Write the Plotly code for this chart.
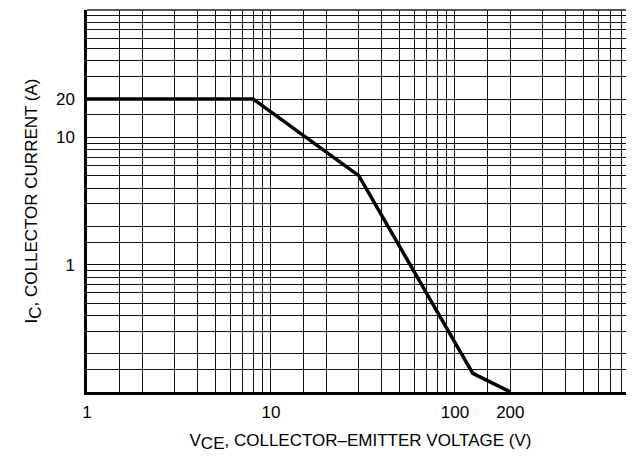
import math
import plotly.graph_objects as go

# Safe operating area curve
vce = [1, 8, 30, 125, 200]
ic = [20, 20, 5, 0.14, 0.1]

# Grid positions (1, 1.5, 2, 3 ... 9 per decade)
mant = [1, 1.5, 2, 3, 4, 5, 6, 7, 8, 9]
x_grid = [m * 10 ** d for d in range(0, 3) for m in mant]
y_grid = [m * 10 ** d for d in range(-1, 2) for m in mant] + [100]

x_tickvals = [1, 10, 100, 200]
x_ticktext = ["1", "10", "100", "200"]
y_tickvals = [1, 10, 20]
y_ticktext = ["1", "10", "20"]

FONT = "Liberation Sans, Arial, sans-serif"
GRID = "#111"

fig = go.Figure()
fig.add_trace(go.Scatter(
    x=vce, y=ic, mode="lines",
    line=dict(color="black", width=3.5),
    showlegend=False, hoverinfo="skip",
))

fig.update_layout(
    width=626, height=452,
    margin=dict(l=79, r=0, t=2, b=68),
    paper_bgcolor="white", plot_bgcolor="white",
    font=dict(family=FONT, color="black", size=17),
    xaxis=dict(
        type="log", range=[0, math.log10(940)], automargin=False,
        tickmode="array", tickvals=x_tickvals, ticktext=x_ticktext,
        showgrid=True, gridcolor=GRID, gridwidth=1,
        minor=dict(tickmode="array", tickvals=x_grid, showgrid=True,
                   gridcolor=GRID, gridwidth=1, ticks=""),
        showline=True, linecolor="black", linewidth=2.5,
        ticks="", zeroline=False, ticklabelstandoff=3,
        tickfont=dict(size=17, family=FONT),
        title=dict(text="V<sub><span style='font-size:17px'>CE</span></sub>, COLLECTOR\u2013EMITTER VOLTAGE (V)",
                   font=dict(size=17, family=FONT), standoff=13),
    ),
    yaxis=dict(
        type="log", range=[-1, 2], automargin=False,
        tickmode="array", tickvals=y_tickvals, ticktext=y_ticktext,
        showgrid=True, gridcolor=GRID, gridwidth=1,
        minor=dict(tickmode="array", tickvals=y_grid, showgrid=True,
                   gridcolor=GRID, gridwidth=1, ticks=""),
        showline=True, linecolor="black", linewidth=2.5,
        ticks="", zeroline=False, ticklabelstandoff=6,
        tickfont=dict(size=17, family=FONT),
        title=dict(text="I<sub><span style='font-size:17px'>C</span></sub>, COLLECTOR CURRENT (A)",
                   font=dict(size=17, family=FONT), standoff=14),
    ),
)

# thin top border
fig.add_shape(type="line", xref="paper", yref="paper",
              x0=0, x1=1, y0=1, y1=1, line=dict(color="#222", width=1.5))

fig.write_html("out.html")
